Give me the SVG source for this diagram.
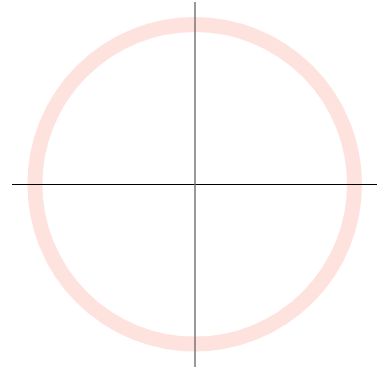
<svg xmlns="http://www.w3.org/2000/svg" width="386" height="374" viewBox="0 0 386 374">
<style>
.ring{fill:none;stroke:#fee2de;stroke-width:15}
</style>
<rect width="386" height="374" fill="#fff"/>
<g id="circle"><circle class="ring" cx="194.7" cy="184.3" r="159.8"/></g>
<g id="axes">
<line x1="12" y1="184.5" x2="377" y2="184.5" stroke="#000" stroke-width="1"/>
<line x1="195" y1="2" x2="195" y2="367" stroke="#6e6e6e" stroke-width="1.4"/>
</g>
</svg>
